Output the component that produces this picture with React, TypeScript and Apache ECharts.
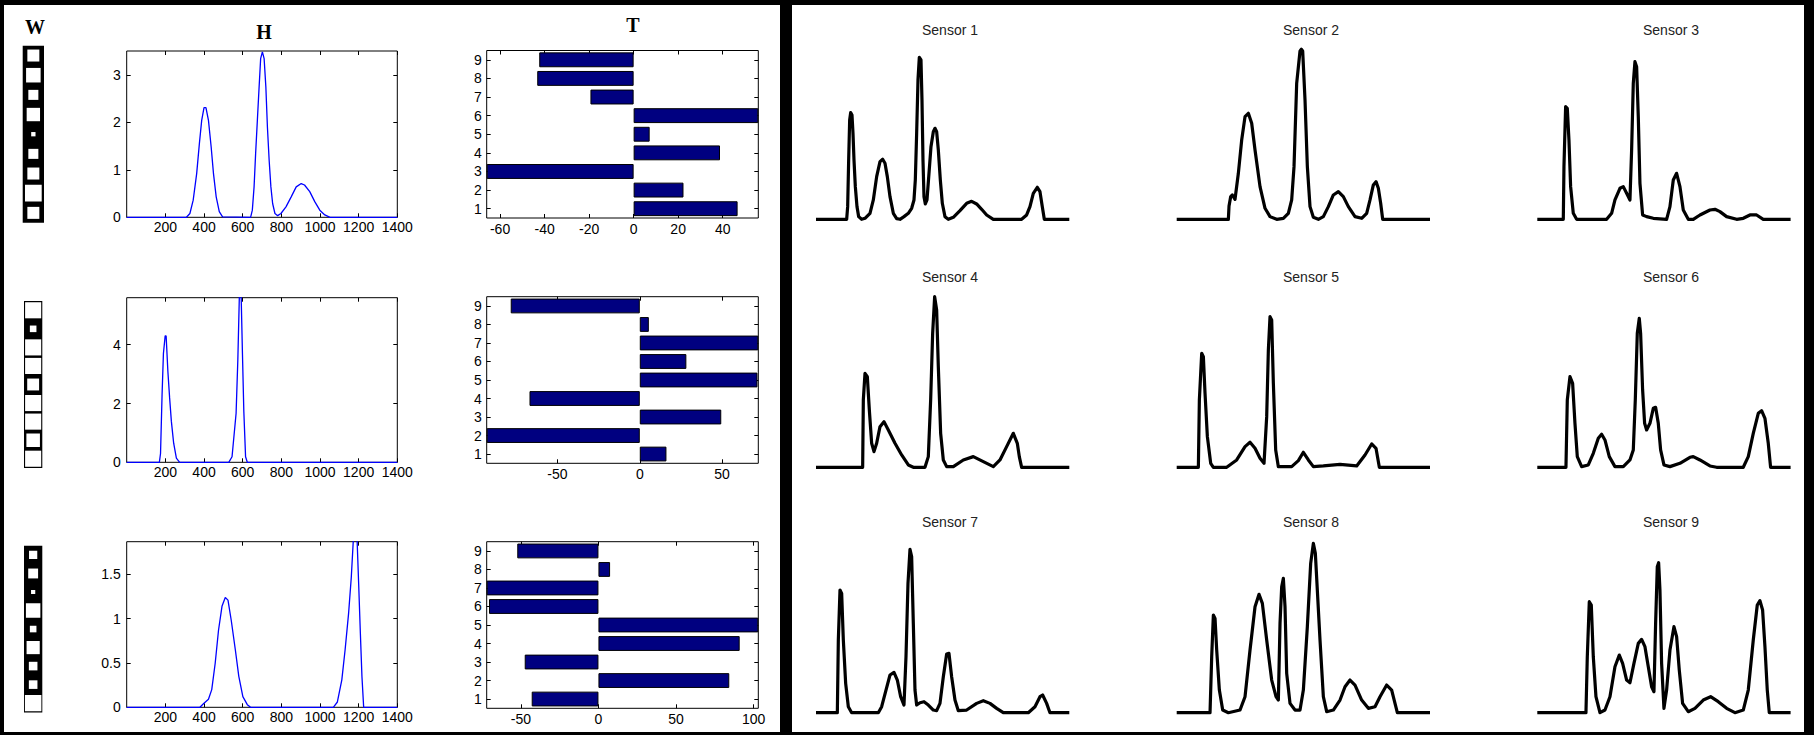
import React, { useEffect, useRef } from "react";
import * as echarts from "echarts";

// ---------- DATA ----------
const CATS = ["1", "2", "3", "4", "5", "6", "7", "8", "9"];

// W: relative side of the white square in each cell (top to bottom)
const W1 = [0.61, 0.74, 0.51, 0.68, 0.22, 0.51, 0.61, 0.85, 0.61];
const W2 = [0.88, 0.36, 0.88, 0.88, 0.65, 0.88, 0.88, 0.74, 0.88];
const W3 = [0.45, 0.54, 0.23, 0.79, 0.36, 0.72, 0.47, 0.47, 0.9];

// H curves [x, y]
const H1: number[][] = [
  [0, 0], [309, 0], [327, 0.08], [344, 0.36], [362, 0.92], [376, 1.55], [388, 2.04], [400, 2.31], [410, 2.31],
  [423, 2.04], [437, 1.48], [449, 0.92], [463, 0.43], [479, 0.12], [496, 0.01], [641, 0], [650, 0.15],
  [659, 0.64], [667, 1.34], [676, 2.04], [685, 2.74], [693, 3.34], [702, 3.48], [711, 3.34], [720, 2.74],
  [728, 1.9], [737, 1.2], [746, 0.64], [755, 0.29], [767, 0.08], [781, 0.035], [798, 0.08], [824, 0.22],
  [851, 0.43], [877, 0.64], [903, 0.71], [920, 0.68], [947, 0.54], [973, 0.33], [999, 0.15], [1025, 0.05],
  [1052, 0], [1400, 0],
];
const H2: number[][] = [
  [0, 0], [169, 0], [175, 0.3], [183, 2.3], [190, 3.7], [199, 4.3], [204, 4.3], [213, 3.1], [222, 2.2],
  [231, 1.4], [243, 0.65], [257, 0.14], [274, 0], [528, 0], [545, 0.19], [566, 1.67], [575, 3.49],
  [583, 5.7], [592, 5.7], [599, 3.66], [606, 1.73], [615, 0.19], [624, 0], [1400, 0],
];
const H3: number[][] = [
  [0, 0], [379, 0], [397, 0.04], [423, 0.09], [440, 0.2], [458, 0.5], [475, 0.87], [493, 1.14], [510, 1.24],
  [524, 1.21], [541, 0.98], [562, 0.65], [580, 0.35], [601, 0.12], [624, 0.03], [641, 0], [1069, 0],
  [1090, 0.06], [1113, 0.31], [1130, 0.65], [1148, 1.06], [1162, 1.47], [1174, 1.95], [1191, 1.95],
  [1200, 1.4], [1209, 0.83], [1217, 0.35], [1226, 0], [1400, 0],
];
const H_X_TICKS = [200, 400, 600, 800, 1000, 1200, 1400];
const H1_Y_TICKS = [0, 1, 2, 3];
const H2_Y_TICKS = [0, 2, 4];
const H3_Y_TICKS = [0, 0.5, 1, 1.5];

// T bars (categories 1..9, bottom to top)
const T1 = [46.7, 22.4, -66, 38.8, 7.2, 56, -19.4, -43.3, -42.4];
const T2 = [16.2, -93, 49.5, -67, 71.5, 28.3, 72, 5.5, -78.4];
const T3 = [-43, 84.3, -47.5, 91, 103, -70.5, -72, 7.5, -52.3];
const T1_X_TICKS = [-60, -40, -20, 0, 20, 40];
const T2_X_TICKS = [-50, 0, 50];
const T3_X_TICKS = [-50, 0, 50, 100];

// Sensor signals [t, v]
const S1: number[][] = [
  [0, 0], [92, 0], [95, 38], [98, 178], [101, 298], [104, 320], [108, 313], [111, 258], [114, 178], [118, 98],
  [123, 38], [128, 8], [137, 0], [147, 3], [162, 18], [172, 58], [182, 128], [192, 173], [200, 180], [207, 168],
  [214, 128], [222, 68], [232, 18], [242, 2], [252, 0], [264, 8], [277, 18], [287, 33], [294, 58], [298, 118],
  [302, 258], [306, 418], [310, 486], [315, 478], [318, 358], [321, 178], [324, 68], [328, 46], [333, 58],
  [339, 138], [345, 218], [352, 263], [357, 273], [362, 263], [367, 208], [373, 118], [379, 48], [387, 8],
  [397, 0], [412, 6], [432, 26], [452, 48], [467, 54], [482, 46], [497, 30], [512, 13], [532, 0], [617, 0],
  [632, 13], [642, 38], [652, 78], [664, 96], [672, 83], [679, 38], [685, 0], [760, 0],
];
const S2: number[][] = [
  [0, 0], [155, 0], [157, 40], [162, 68], [167, 73], [175, 60], [185, 138], [195, 238], [205, 308], [215, 318],
  [225, 288], [235, 208], [250, 98], [265, 33], [280, 8], [300, 0], [320, 3], [335, 18], [345, 58], [352, 158],
  [360, 408], [370, 505], [374, 510], [378, 505], [385, 358], [392, 158], [400, 38], [410, 6], [425, 0], [440, 8],
  [455, 38], [470, 73], [485, 83], [500, 68], [515, 38], [535, 8], [555, 3], [570, 18], [580, 58], [590, 103],
  [598, 113], [605, 93], [612, 48], [618, 0], [760, 0],
];
const S3: number[][] = [
  [0, 0], [78, 0], [80, 158], [85, 338], [90, 333], [95, 238], [100, 98], [108, 18], [118, 0], [208, 0],
  [223, 18], [233, 58], [248, 93], [258, 98], [268, 78], [278, 58], [283, 208], [288, 408], [293, 473],
  [298, 458], [303, 308], [308, 108], [316, 13], [328, 8], [348, 3], [388, 0], [398, 38], [408, 118],
  [418, 138], [428, 98], [438, 28], [453, 0], [468, 0], [488, 13], [518, 28], [533, 30], [548, 23], [568, 8],
  [598, 0], [618, 3], [638, 13], [658, 13], [678, 0], [760, 0],
];
const S4: number[][] = [
  [0, 0], [140, 0], [142, 202], [147, 282], [154, 272], [160, 172], [167, 72], [174, 47], [182, 72], [192, 122],
  [204, 137], [217, 112], [237, 72], [257, 37], [277, 7], [292, 0], [327, 0], [337, 32], [344, 202], [350, 402],
  [356, 512], [362, 472], [367, 302], [374, 102], [382, 22], [392, 2], [412, 2], [442, 22], [472, 32],
  [502, 17], [532, 2], [552, 22], [572, 62], [592, 102], [604, 72], [610, 32], [617, 0], [760, 0],
];
const S5: number[][] = [
  [0, 0], [65, 0], [68, 202], [75, 342], [80, 332], [85, 222], [92, 92], [102, 12], [110, 0], [150, 0],
  [180, 22], [205, 62], [220, 75], [235, 57], [250, 27], [262, 12], [270, 152], [275, 352], [280, 452],
  [285, 442], [290, 252], [297, 52], [305, 2], [345, 2], [365, 20], [380, 45], [395, 22], [410, 2], [440, 4],
  [490, 9], [540, 4], [565, 37], [585, 70], [598, 57], [608, 0], [760, 0],
];
const S6: number[][] = [
  [0, 0], [86, 0], [90, 202], [98, 272], [106, 252], [113, 132], [120, 32], [133, 2], [153, 7], [168, 42],
  [183, 87], [193, 99], [203, 82], [216, 32], [233, 2], [258, 2], [278, 22], [288, 52], [294, 202], [300, 402],
  [306, 447], [310, 402], [316, 232], [322, 132], [328, 112], [338, 132], [348, 177], [355, 180], [363, 132],
  [370, 52], [380, 7], [398, 2], [428, 12], [458, 30], [468, 32], [488, 22], [518, 4], [538, 0], [618, 0],
  [633, 32], [648, 102], [663, 162], [673, 170], [683, 147], [693, 72], [700, 0], [760, 0],
];
const S7: number[][] = [
  [0, 0], [64, 0], [67, 218], [72, 368], [77, 358], [82, 218], [89, 88], [97, 18], [107, 0], [187, 0],
  [197, 18], [210, 68], [222, 113], [234, 121], [244, 98], [254, 48], [264, 23], [270, 168], [276, 388],
  [282, 490], [287, 468], [292, 268], [297, 68], [302, 23], [312, 30], [324, 33], [337, 23], [352, 8],
  [362, 6], [372, 28], [382, 108], [392, 176], [399, 178], [407, 108], [417, 38], [427, 6], [452, 8],
  [482, 28], [502, 36], [522, 28], [542, 13], [562, 0], [637, 0], [657, 18], [672, 48], [680, 53], [692, 28],
  [702, 0], [760, 0],
];
const S8: number[][] = [
  [0, 0], [100, 0], [105, 168], [110, 293], [115, 283], [120, 188], [128, 68], [138, 8], [155, 0], [190, 8],
  [205, 48], [220, 188], [235, 318], [247, 355], [257, 328], [270, 218], [285, 98], [298, 48], [305, 38],
  [310, 268], [315, 378], [320, 403], [325, 318], [330, 118], [340, 28], [355, 8], [370, 8], [380, 68],
  [392, 258], [402, 448], [410, 508], [416, 478], [430, 218], [440, 48], [450, 3], [470, 8], [490, 38],
  [505, 78], [520, 98], [535, 83], [555, 38], [575, 13], [595, 18], [610, 48], [630, 83], [645, 68],
  [655, 28], [662, 0], [760, 0],
];
const S9: number[][] = [
  [0, 0], [146, 0], [150, 168], [156, 333], [162, 323], [168, 168], [176, 48], [188, 0], [203, 8], [218, 48],
  [233, 138], [246, 173], [256, 148], [268, 98], [278, 90], [290, 148], [303, 208], [313, 220], [323, 198],
  [333, 138], [343, 78], [350, 63], [355, 268], [360, 438], [364, 450], [368, 368], [373, 148], [380, 13],
  [388, 68], [398, 188], [410, 258], [418, 228], [426, 128], [436, 28], [453, 3], [473, 13], [498, 38],
  [520, 48], [543, 33], [568, 13], [593, 0], [618, 8], [633, 68], [648, 218], [660, 323], [668, 336],
  [676, 308], [683, 198], [690, 68], [696, 0], [760, 0],
];
const SENSOR_NAMES = ["Sensor 1", "Sensor 2", "Sensor 3", "Sensor 4", "Sensor 5", "Sensor 6", "Sensor 7", "Sensor 8", "Sensor 9"];
const SENSORS = [S1, S2, S3, S4, S5, S6, S7, S8, S9];

// ---------- LAYOUT / STYLE ----------
const FONT = { color: "#000", fontSize: 14, fontFamily: "'Liberation Sans', Arial, sans-serif" };
const TICK = { show: true, inside: true, length: 4, lineStyle: { color: "#000", width: 1 } };
const NO_LINE = { show: false, onZero: false };
const plain = (v: number) => String(v);

function buildOption() {
  const grid: any[] = [];
  const xAxis: any[] = [];
  const yAxis: any[] = [];
  const series: any[] = [];
  const graphic: any[] = [];

  const addGrid = (g: any) => {
    grid.push(g);
    return grid.length - 1;
  };

  // W hinton strips
  const wRows = [
    { vals: W1, left: 22.7, top: 45.7, width: 21.3, height: 177 },
    { vals: W2, left: 24, top: 301, width: 18.3, height: 167 },
    { vals: W3, left: 24, top: 545.7, width: 18.3, height: 166.7 },
  ];
  wRows.forEach((r) => {
    const gi = addGrid({ left: r.left, top: r.top, width: r.width, height: r.height, show: true, backgroundColor: "#000", borderWidth: 0 });
    const xi = xAxis.length;
    xAxis.push({ type: "value", gridIndex: gi, min: 0, max: 1, show: false, axisLine: NO_LINE });
    const yi = yAxis.length;
    yAxis.push({ type: "category", gridIndex: gi, data: CATS, inverse: true, show: false, axisLine: NO_LINE });
    series.push({
      type: "custom",
      xAxisIndex: xi,
      yAxisIndex: yi,
      clip: false,
      data: r.vals.map((w, i) => [0.5, i, w]),
      renderItem: (params: any, api: any) => {
        const c = api.coord([api.value(0), api.value(1)]);
        const s = api.size([1, 1]);
        const side = api.value(2) * Math.min(s[0], s[1]);
        return {
          type: "rect",
          shape: { x: c[0] - side / 2, y: c[1] - side / 2, width: side, height: side },
          style: { fill: "#fff" },
        };
      },
    });
  });

  // H line plots
  const hRows = [
    { data: H1, top: 51, height: 166.3, ymax: 3.5, ticks: H1_Y_TICKS },
    { data: H2, top: 297.7, height: 164.6, ymax: 5.6, ticks: H2_Y_TICKS },
    { data: H3, top: 541.7, height: 165.6, ymax: 1.87, ticks: H3_Y_TICKS },
  ];
  hRows.forEach((r) => {
    const gi = addGrid({ left: 126.7, top: r.top, width: 270.6, height: r.height, show: true, backgroundColor: "#fff", borderColor: "#000", borderWidth: 1 });
    const xi = xAxis.length;
    const xBase = { type: "value", gridIndex: gi, min: 0, max: 1400, axisLine: NO_LINE, splitLine: { show: false } };
    xAxis.push({ ...xBase, position: "bottom", axisTick: { ...TICK, customValues: H_X_TICKS }, axisLabel: { ...FONT, margin: 3, customValues: H_X_TICKS, formatter: plain } });
    xAxis.push({ ...xBase, position: "top", axisTick: { ...TICK, customValues: H_X_TICKS }, axisLabel: { show: false } });
    const yi = yAxis.length;
    const yBase = { type: "value", gridIndex: gi, min: 0, max: r.ymax, axisLine: NO_LINE, splitLine: { show: false } };
    yAxis.push({ ...yBase, position: "left", axisTick: { ...TICK, customValues: r.ticks }, axisLabel: { ...FONT, margin: 6, customValues: r.ticks, formatter: plain } });
    yAxis.push({ ...yBase, position: "right", axisTick: { ...TICK, customValues: r.ticks }, axisLabel: { show: false } });
    series.push({
      type: "line",
      xAxisIndex: xi,
      yAxisIndex: yi,
      data: r.data,
      showSymbol: false,
      clip: true,
      lineStyle: { color: "#0000ff", width: 1.3 },
    });
  });

  // T bar plots
  const tRows = [
    { data: T1, top: 50.5, height: 167.5, min: -66, max: 56, ticks: T1_X_TICKS },
    { data: T2, top: 296.7, height: 166.6, min: -93, max: 72, ticks: T2_X_TICKS },
    { data: T3, top: 541.7, height: 166.6, min: -72, max: 103, ticks: T3_X_TICKS },
  ];
  tRows.forEach((r) => {
    const gi = addGrid({ left: 486.7, top: r.top, width: 271.6, height: r.height, show: true, backgroundColor: "#fff", borderColor: "#000", borderWidth: 1 });
    const xi = xAxis.length;
    const xBase = { type: "value", gridIndex: gi, min: r.min, max: r.max, axisLine: NO_LINE, splitLine: { show: false } };
    xAxis.push({ ...xBase, position: "bottom", axisTick: { ...TICK, customValues: r.ticks }, axisLabel: { ...FONT, margin: 4, customValues: r.ticks, formatter: plain } });
    xAxis.push({ ...xBase, position: "top", axisTick: { ...TICK, customValues: r.ticks }, axisLabel: { show: false } });
    const yi = yAxis.length;
    const yBase = { type: "category", gridIndex: gi, data: CATS, axisLine: NO_LINE, splitLine: { show: false } };
    yAxis.push({ ...yBase, position: "left", axisTick: { ...TICK, alignWithLabel: true }, axisLabel: { ...FONT, margin: 5 } });
    yAxis.push({ ...yBase, position: "right", axisTick: { ...TICK, alignWithLabel: true }, axisLabel: { show: false } });
    series.push({
      type: "bar",
      xAxisIndex: xi,
      yAxisIndex: yi,
      data: r.data,
      barCategoryGap: "20%",
      itemStyle: { color: "#000080", borderColor: "#000", borderWidth: 1 },
    });
  });

  // Sensor plots
  const colLefts = [816, 1176.7, 1537.3];
  const baselines = [219.3, 467.3, 712.7];
  const titleX = [950, 1311, 1671];
  const titleY = [30, 277, 522];
  const SH = 180;
  SENSORS.forEach((d, k) => {
    const col = k % 3;
    const row = Math.floor(k / 3);
    const gi = addGrid({ left: colLefts[col], top: baselines[row] - SH, width: 253.3, height: SH });
    const xi = xAxis.length;
    xAxis.push({ type: "value", gridIndex: gi, min: 0, max: 760, show: false, axisLine: NO_LINE });
    const yi = yAxis.length;
    yAxis.push({ type: "value", gridIndex: gi, min: 0, max: SH * 3, show: false, axisLine: NO_LINE });
    series.push({
      type: "line",
      xAxisIndex: xi,
      yAxisIndex: yi,
      data: d,
      showSymbol: false,
      clip: false,
      lineStyle: { color: "#000", width: 3.2, join: "round" },
    });
    graphic.push({
      type: "text",
      x: titleX[col],
      y: titleY[row],
      style: {
        text: SENSOR_NAMES[k],
        fill: "#222",
        font: "14px 'Liberation Sans', Arial, sans-serif",
        align: "center",
        verticalAlign: "middle",
        textAlign: "center",
        textVerticalAlign: "middle",
      },
    });
  });

  const serif = "bold 20px 'Liberation Serif', 'Times New Roman', serif";
  [
    { t: "W", x: 35, y: 27 },
    { t: "H", x: 264, y: 32 },
    { t: "T", x: 633, y: 25 },
  ].forEach((h) => {
    graphic.push({
      type: "text",
      x: h.x,
      y: h.y,
      style: { text: h.t, fill: "#000", font: serif, align: "center", verticalAlign: "middle", textAlign: "center", textVerticalAlign: "middle" },
    });
  });

  return {
    animation: false,
    backgroundColor: "transparent",
    grid,
    xAxis,
    yAxis,
    series,
    graphic,
  };
}

export default function App() {
  const ref = useRef<HTMLDivElement>(null);
  useEffect(() => {
    if (!ref.current) return;
    const chart = echarts.init(ref.current, undefined, { renderer: "svg" });
    chart.setOption(buildOption() as any);
    return () => chart.dispose();
  }, []);
  return (
    <div style={{ position: "absolute", left: 0, top: 0, width: 1814, height: 735, background: "#000", overflow: "hidden" }}>
      <div style={{ position: "absolute", left: 4, top: 5, width: 776, height: 727, background: "#fff" }} />
      <div style={{ position: "absolute", left: 792, top: 5, width: 1012, height: 727, background: "#fff" }} />
      <div ref={ref} style={{ position: "absolute", left: 0, top: 0, width: 1814, height: 735 }} />
    </div>
  );
}
